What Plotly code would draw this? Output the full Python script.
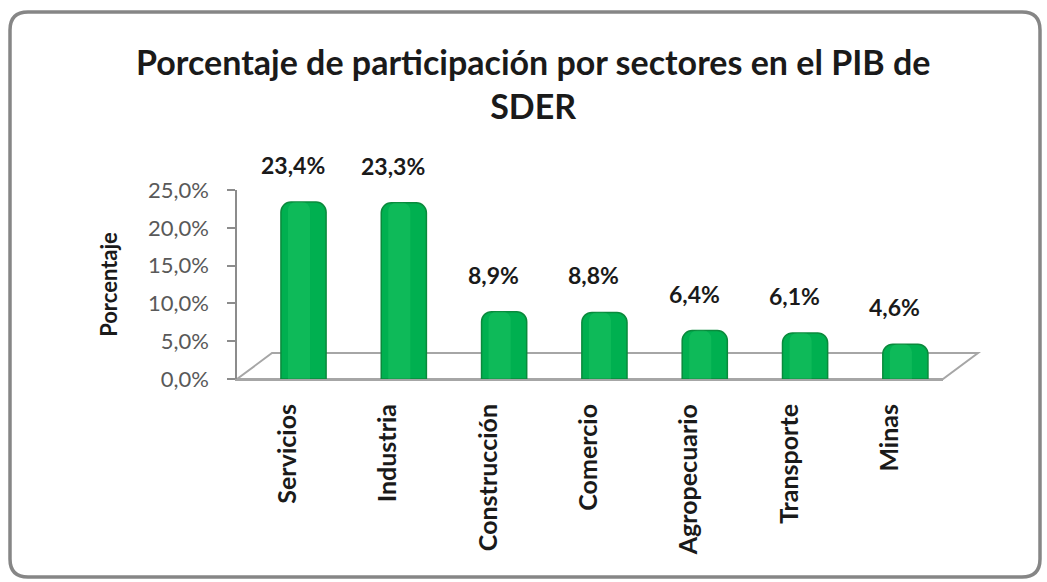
import plotly.graph_objects as go

# ---------------- data ----------------
categories = ["Servicios", "Industria", "Construcción", "Comercio",
              "Agropecuario", "Transporte", "Minas"]
values = [23.4, 23.3, 8.9, 8.8, 6.4, 6.1, 4.6]
value_labels = ["23,4%", "23,3%", "8,9%", "8,8%", "6,4%", "6,1%", "4,6%"]
y_tickvals = [0, 5, 10, 15, 20, 25]
y_ticktext = ["0,0%", "5,0%", "10,0%", "15,0%", "20,0%", "25,0%"]
title_text = "Porcentaje de participación por sectores en el PIB de<br>SDER"
y_title = "Porcentaje"

# ---------------- layout geometry (pixels) ----------------
W, H = 1047, 582
L, R, T, B = 237, 943, 190, 379


def px(x):
    return (x - L) / (R - L)


def py(y):
    return (B - y) / (B - T)


FONT = "Lato"
GREEN = "#00B050"
GREEN_DARK = "#0A8A3C"
GREEN_LIGHT = "#2ED072"

fig = go.Figure()

x_idx = list(range(len(categories)))

fig.add_trace(go.Bar(
    x=x_idx, y=values,
    width=0.45, offset=-0.07,
    marker=dict(color=GREEN, line=dict(color=GREEN_DARK, width=1.5),
                cornerradius=10),
    hoverinfo="skip", showlegend=False,
))
# cylinder highlight
fig.add_trace(go.Bar(
    x=x_idx, y=values,
    width=0.22, offset=0.0,
    marker=dict(color=GREEN_LIGHT, opacity=0.3, line=dict(width=0),
                cornerradius=8),
    hoverinfo="skip", showlegend=False,
))

# data labels
for i, (v, t) in enumerate(zip(values, value_labels)):
    fig.add_annotation(
        x=i, y=v, text=f"<b>{t}</b>", showarrow=False,
        xshift=5, yshift=37,
        font=dict(family=FONT, size=23, color="#1a1a1a"),
    )

# title
fig.add_annotation(
    xref="paper", yref="paper", x=px(533), y=py(83),
    text=f"<b>{title_text}</b>", showarrow=False,
    xanchor="center", yanchor="middle",
    font=dict(family=FONT, size=34, color="#1a1a1a"),
)

shapes = []
# 3D floor
shapes.append(dict(
    type="path", xref="paper", yref="paper", layer="below",
    path=(f"M {px(237)},{py(379)} L {px(272)},{py(353)} "
          f"L {px(978)},{py(353)} L {px(943)},{py(379)} Z"),
    line=dict(color="#A6A6A6", width=2), fillcolor="rgba(0,0,0,0)",
))
# outer rounded border
x0, x1, y0, y1, r = 10, 1040, 12, 577, 18
border = (f"M {px(x0 + r)},{py(y0)} L {px(x1 - r)},{py(y0)} "
          f"Q {px(x1)},{py(y0)} {px(x1)},{py(y0 + r)} "
          f"L {px(x1)},{py(y1 - r)} "
          f"Q {px(x1)},{py(y1)} {px(x1 - r)},{py(y1)} "
          f"L {px(x0 + r)},{py(y1)} "
          f"Q {px(x0)},{py(y1)} {px(x0)},{py(y1 - r)} "
          f"L {px(x0)},{py(y0 + r)} "
          f"Q {px(x0)},{py(y0)} {px(x0 + r)},{py(y0)} Z")
shapes.append(dict(
    type="path", xref="paper", yref="paper", layer="below",
    path=border, line=dict(color="#868686", width=3.5),
    fillcolor="rgba(0,0,0,0)",
))

fig.update_layout(
    width=W, height=H,
    margin=dict(l=L, r=W - R, t=T, b=H - B, autoexpand=False),
    paper_bgcolor="white", plot_bgcolor="white",
    barmode="overlay",
    separators=",.",
    shapes=shapes,
    font=dict(family=FONT),
)

fig.update_xaxes(
    range=[-0.508, 6.53],
    tickmode="array", tickvals=x_idx,
    ticktext=[f"<b>{c}</b>" for c in categories],
    tickangle=-90, ticks="", showgrid=False, zeroline=False,
    showline=True, linecolor="#A6A6A6", linewidth=2,
    tickfont=dict(family=FONT, size=25, color="#1a1a1a"),
    ticklabelstandoff=13, automargin=False,
)

fig.update_yaxes(
    range=[0, 25],
    tickmode="array", tickvals=y_tickvals, ticktext=y_ticktext,
    ticks="outside", ticklen=8, tickcolor="#8C8C8C", tickwidth=1.5,
    showline=True, linecolor="#8C8C8C", linewidth=1.5,
    showgrid=False, zeroline=False,
    tickfont=dict(family=FONT, size=22, color="#595959"),
    ticklabelstandoff=14,
    title=dict(text=f"<b>{y_title}</b>", standoff=24,
               font=dict(family=FONT, size=22, color="#1a1a1a")),
    automargin=False,
)

fig.write_html("out.html")
